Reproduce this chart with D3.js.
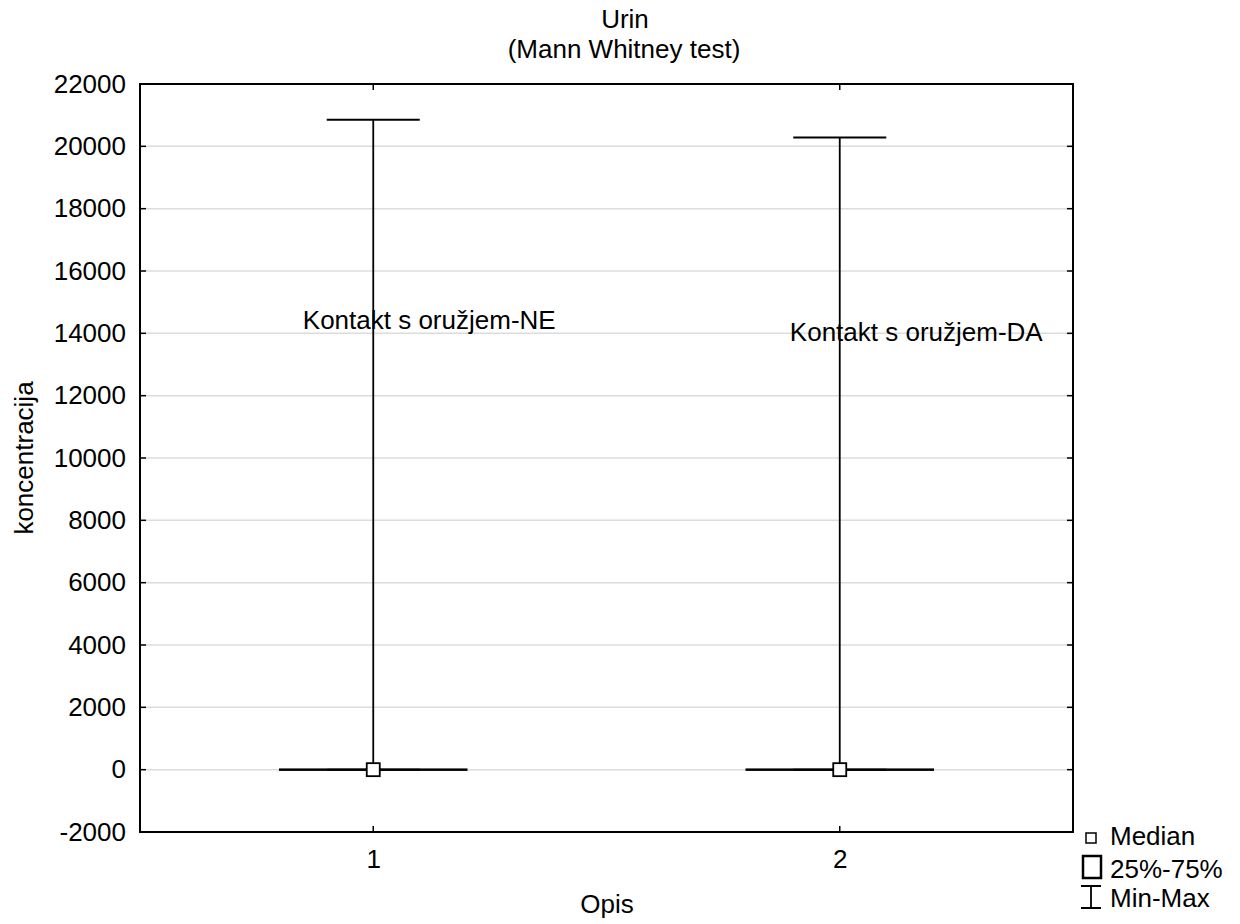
<!DOCTYPE html>
<html><head><meta charset="utf-8">
<script src="https://cdn.jsdelivr.net/npm/d3@7"></script>
<style>body{margin:0;background:#fff}text{font-family:"Liberation Sans",Arial,sans-serif;fill:#000}</style>
</head><body><svg id="c" width="1240" height="924"></svg>
<script>
const categories = [1, 2];
const groupLabels = ["Kontakt s oružjem-NE", "Kontakt s oružjem-DA"];
const labelX = [0.849, 1.893];
const labelY = [14140, 13760];
const medians = [0, 0];
const q25 = [0, 0];
const q75 = [0, 0];
const mins = [0, 0];
const maxs = [20850, 20280];
const yTicks = [-2000, 0, 2000, 4000, 6000, 8000, 10000, 12000, 14000, 16000, 18000, 20000, 22000];

const FS = 26;
const svg = d3.select("#c");
const L = 140, R = 1073, T = 84, B = 832;
const x = d3.scaleLinear().domain([0.5, 2.5]).range([L, R]);
const y = d3.scaleLinear().domain([-2000, 22000]).range([B, T]);

// gridlines
svg.append("g").selectAll("line").data(yTicks.filter(d => d > -2000 && d < 22000)).join("line")
  .attr("x1", L).attr("x2", R).attr("y1", d => y(d)).attr("y2", d => y(d))
  .attr("stroke", "#dcdcdc").attr("stroke-width", 1.5);

// axes
const yAxis = d3.axisLeft(y).tickValues(yTicks).tickSize(0).tickPadding(14).tickFormat(d => String(d));
const gy = svg.append("g").attr("transform", `translate(${L},0)`).call(yAxis);
gy.select(".domain").remove();
gy.selectAll("text").attr("font-size", FS).style("font-family", '"Liberation Sans",Arial,sans-serif');

const xAxis = d3.axisBottom(x).tickValues(categories).tickSize(0).tickPadding(18).tickFormat(d3.format("d"));
const gx = svg.append("g").attr("transform", `translate(0,${B})`).call(xAxis);
gx.select(".domain").remove();
gx.selectAll("text").attr("font-size", FS).style("font-family", '"Liberation Sans",Arial,sans-serif');

// inward ticks
const tk = svg.append("g").attr("stroke", "#000").attr("stroke-width", 1.5);
yTicks.forEach(v => {
  tk.append("line").attr("x1", L).attr("x2", L + 6).attr("y1", y(v)).attr("y2", y(v));
  tk.append("line").attr("x1", R - 6).attr("x2", R).attr("y1", y(v)).attr("y2", y(v));
});
categories.forEach(c => {
  tk.append("line").attr("x1", x(c)).attr("x2", x(c)).attr("y1", B).attr("y2", B - 6);
  tk.append("line").attr("x1", x(c)).attr("x2", x(c)).attr("y1", T).attr("y2", T + 6);
});

// frame
svg.append("rect").attr("x", L).attr("y", T).attr("width", R - L).attr("height", B - T)
  .attr("fill", "none").attr("stroke", "#000").attr("stroke-width", 2);

// boxes
const boxW = 187, capW = 93;
const g = svg.append("g");
categories.forEach((c, i) => {
  const cx = x(c);
  g.append("line").attr("x1", cx).attr("x2", cx).attr("y1", y(maxs[i])).attr("y2", y(mins[i]))
    .attr("stroke", "#000").attr("stroke-width", 1.8);
  g.append("line").attr("x1", cx - capW / 2).attr("x2", cx + capW / 2).attr("y1", y(maxs[i])).attr("y2", y(maxs[i]))
    .attr("stroke", "#000").attr("stroke-width", 2);
  g.append("line").attr("x1", cx - capW / 2).attr("x2", cx + capW / 2).attr("y1", y(mins[i])).attr("y2", y(mins[i]))
    .attr("stroke", "#000").attr("stroke-width", 2);
  g.append("rect").attr("x", cx - boxW / 2).attr("y", y(q75[i]) - 0.5).attr("width", boxW)
    .attr("height", Math.max(1, y(q25[i]) - y(q75[i]) + 1))
    .attr("fill", "none").attr("stroke", "#000").attr("stroke-width", 1.5);
  g.append("rect").attr("x", cx - 6.5).attr("y", y(medians[i]) - 6.5).attr("width", 13).attr("height", 13)
    .attr("fill", "#fff").attr("stroke", "#000").attr("stroke-width", 1.8);
  g.append("text").attr("x", x(labelX[i])).attr("y", y(labelY[i])).attr("text-anchor", "start")
    .attr("font-size", FS).text(groupLabels[i]);
});

// titles
svg.append("text").attr("x", 625).attr("y", 28).attr("text-anchor", "middle").attr("font-size", FS).text("Urin");
svg.append("text").attr("x", 624).attr("y", 58).attr("text-anchor", "middle").attr("font-size", FS).text("(Mann Whitney test)");
svg.append("text").attr("x", 607).attr("y", 913).attr("text-anchor", "middle").attr("font-size", FS).text("Opis");
svg.append("text").attr("transform", "translate(33,458) rotate(-90)").attr("text-anchor", "middle").attr("font-size", FS).text("koncentracija");

// legend
const lg = svg.append("g");
lg.append("rect").attr("x", 1086).attr("y", 833).attr("width", 10).attr("height", 10).attr("fill", "#fff").attr("stroke", "#000").attr("stroke-width", 1.5);
lg.append("rect").attr("x", 1083).attr("y", 856).attr("width", 18).attr("height", 22).attr("fill", "none").attr("stroke", "#000").attr("stroke-width", 2.5);
lg.append("path").attr("d", "M1081,886H1101M1091,886V908M1081,908H1101").attr("fill", "none").attr("stroke", "#000").attr("stroke-width", 1.8);
lg.append("text").attr("x", 1110).attr("y", 845).attr("font-size", FS).text("Median");
lg.append("text").attr("x", 1110).attr("y", 878).attr("font-size", FS).text("25%-75%");
lg.append("text").attr("x", 1110).attr("y", 907).attr("font-size", FS).text("Min-Max");
</script></body></html>
